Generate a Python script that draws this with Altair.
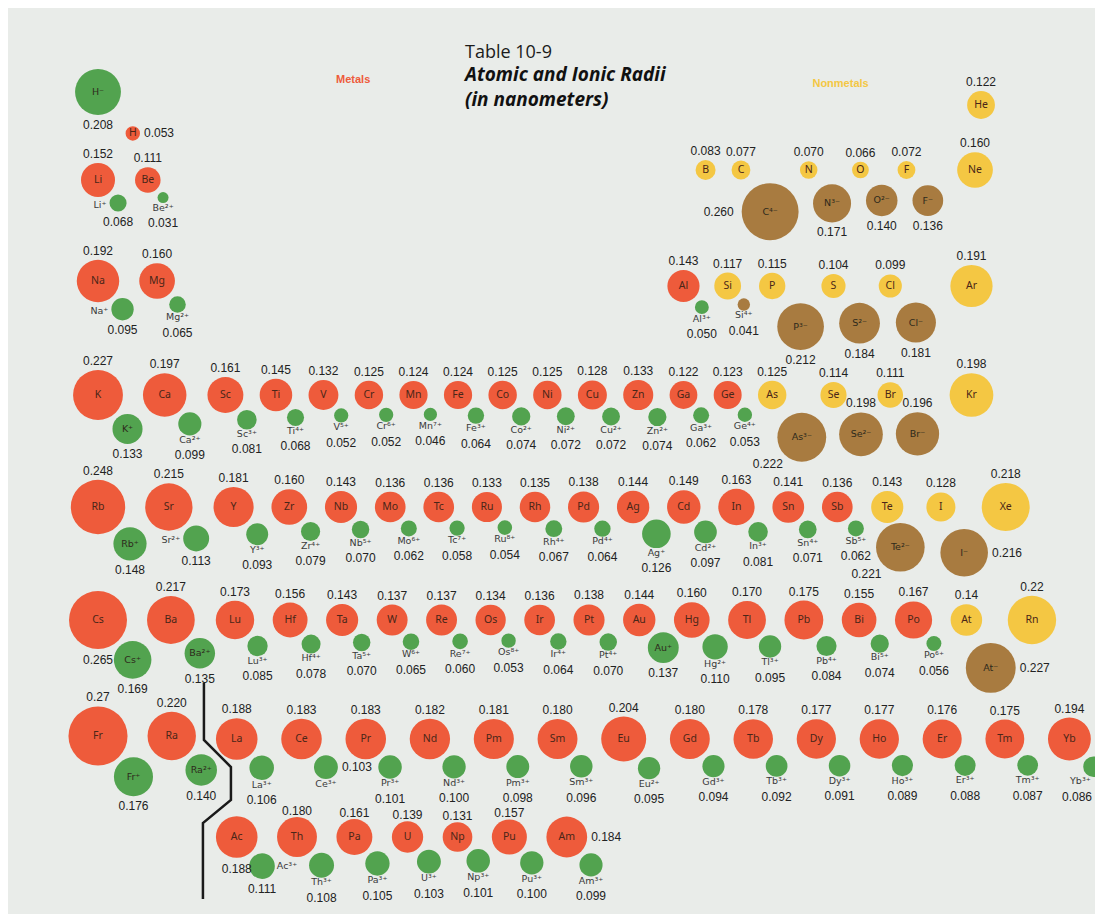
import math
import altair as alt
import pandas as pd

# ---------------- data (radii in nm, as printed) ----------------
P1_SYM = ["H", "He"]
P1_RAD = ["0.053", "0.122"]
P1_ION = ["−", ""]
P1_IRAD = ["0.208", ""]

P2_SYM = ["Li", "Be", "B", "C", "N", "O", "F", "Ne"]
P2_GRP = [1, 2, 13, 14, 15, 16, 17, 18]
P2_RAD = ["0.152", "0.111", "0.083", "0.077", "0.070", "0.066", "0.072", "0.160"]
P2_ION = ["+", "2+", "", "4−", "3−", "2−", "−", ""]
P2_IRAD = ["0.068", "0.031", "", "0.260", "0.171", "0.140", "0.136", ""]

P3_SYM = ["Na", "Mg", "Al", "Si", "P", "S", "Cl", "Ar"]
P3_GRP = [1, 2, 13, 14, 15, 16, 17, 18]
P3_RAD = ["0.192", "0.160", "0.143", "0.117", "0.115", "0.104", "0.099", "0.191"]
P3_ION = ["+", "2+", "3+", "4+", "3−", "2−", "−", ""]
P3_IRAD = ["0.095", "0.065", "0.050", "0.041", "0.212", "0.184", "0.181", ""]

P4_SYM = ["K", "Ca", "Sc", "Ti", "V", "Cr", "Mn", "Fe", "Co", "Ni", "Cu", "Zn", "Ga", "Ge", "As", "Se", "Br", "Kr"]
P4_RAD = ["0.227", "0.197", "0.161", "0.145", "0.132", "0.125", "0.124", "0.124", "0.125", "0.125", "0.128", "0.133", "0.122", "0.123", "0.125", "0.114", "0.111", "0.198"]
P4_ION = ["+", "2+", "3+", "4+", "5+", "6+", "7+", "3+", "2+", "2+", "2+", "2+", "3+", "4+", "3−", "2−", "−", ""]
P4_IRAD = ["0.133", "0.099", "0.081", "0.068", "0.052", "0.052", "0.046", "0.064", "0.074", "0.072", "0.072", "0.074", "0.062", "0.053", "0.222", "0.198", "0.196", ""]

P5_SYM = ["Rb", "Sr", "Y", "Zr", "Nb", "Mo", "Tc", "Ru", "Rh", "Pd", "Ag", "Cd", "In", "Sn", "Sb", "Te", "I", "Xe"]
P5_RAD = ["0.248", "0.215", "0.181", "0.160", "0.143", "0.136", "0.136", "0.133", "0.135", "0.138", "0.144", "0.149", "0.163", "0.141", "0.136", "0.143", "0.128", "0.218"]
P5_ION = ["+", "2+", "3+", "4+", "5+", "6+", "7+", "8+", "4+", "4+", "+", "2+", "3+", "4+", "5+", "2−", "−", ""]
P5_IRAD = ["0.148", "0.113", "0.093", "0.079", "0.070", "0.062", "0.058", "0.054", "0.067", "0.064", "0.126", "0.097", "0.081", "0.071", "0.062", "0.221", "0.216", ""]

P6_SYM = ["Cs", "Ba", "Lu", "Hf", "Ta", "W", "Re", "Os", "Ir", "Pt", "Au", "Hg", "Tl", "Pb", "Bi", "Po", "At", "Rn"]
P6_RAD = ["0.265", "0.217", "0.173", "0.156", "0.143", "0.137", "0.137", "0.134", "0.136", "0.138", "0.144", "0.160", "0.170", "0.175", "0.155", "0.167", "0.14", "0.22"]
P6_ION = ["+", "2+", "3+", "4+", "5+", "6+", "7+", "8+", "4+", "4+", "+", "2+", "3+", "4+", "5+", "6+", "−", ""]
P6_IRAD = ["0.169", "0.135", "0.085", "0.078", "0.070", "0.065", "0.060", "0.053", "0.064", "0.070", "0.137", "0.110", "0.095", "0.084", "0.074", "0.056", "0.227", ""]

P7_SYM = ["Fr", "Ra"]
P7_RAD = ["0.27", "0.220"]
P7_ION = ["+", "2+"]
P7_IRAD = ["0.176", "0.140"]

LAN_SYM = ["La", "Ce", "Pr", "Nd", "Pm", "Sm", "Eu", "Gd", "Tb", "Dy", "Ho", "Er", "Tm", "Yb"]
LAN_RAD = ["0.188", "0.183", "0.183", "0.182", "0.181", "0.180", "0.204", "0.180", "0.178", "0.177", "0.177", "0.176", "0.175", "0.194"]
LAN_ION = ["3+", "3+", "3+", "3+", "3+", "3+", "2+", "3+", "3+", "3+", "3+", "3+", "3+", "3+"]
LAN_IRAD = ["0.106", "0.103", "0.101", "0.100", "0.098", "0.096", "0.095", "0.094", "0.092", "0.091", "0.089", "0.088", "0.087", "0.086"]

ACT_SYM = ["Ac", "Th", "Pa", "U", "Np", "Pu", "Am"]
ACT_RAD = ["0.188", "0.180", "0.161", "0.139", "0.131", "0.157", "0.184"]
ACT_ION = ["3+", "3+", "3+", "3+", "3+", "3+", "3+"]
ACT_IRAD = ["0.111", "0.108", "0.105", "0.103", "0.101", "0.100", "0.099"]

NONMETALS = ["He", "B", "C", "N", "O", "F", "Ne", "Si", "P", "S", "Cl", "Ar",
             "As", "Se", "Br", "Kr", "Te", "I", "Xe", "At", "Rn"]

# ---------------- layout rules (packing by circle size) ----------------
SIZE_MIN, SIZE_K, SIZE_DMAX = 76.0, 46820.0, 0.3   # same as the size scale below
CLEAR_CATION = 6                                  # clearances between neighbours
CLEAR_ION_ION = {2: 15, 3: 15, 4: 13, 5: 16, 6: 16, 7: 16}
CLEAR_ANION_ATOM = 13
CLEAR_ANION_NOBLE = {2: 23, 3: 23, 4: 23, 5: 14, 6: 14, 7: 14}
X_G1 = 98                                         # column of group 1
ROW_Y = {"1": 92, "He": 105, "2s": 180, "2p": 170, "3s": 281, "3p": 286,
         4: 395, 5: 507, 6: 620, 7: 736, "lan": 739, "act": 837}
GAP_ROW = {2: 16, 4: 16.3, 5: 17.8, 6: 18.5, "lan": 23.7, "act": 19.5}
GAP_S, GAP_SD, GAP_LA = 20, 21, 20
HE_SHIFT = 6
VAL_GAP, VAL_GAP_ACT = 9, 6

ION_ANGLE = {"H": (230, 24), "Te": (72, 2)}
VAL_PLACE = {"H": "right", "Cs": "below", "Ac": "below", "Am": "right"}
ION_LABEL_PLACE = {"Li": "left", "Na": "left", "Sr": "left", "Ac": "right"}
ION_VAL_PLACE = {"C": "left", "As": "below-left", "Te": "below-left", "Se": "above",
                 "Br": "above", "I": "right", "At": "right", "Ce": "right"}
SUP = str.maketrans("0123456789+−", "⁰¹²³⁴⁵⁶⁷⁸⁹⁺⁻")

W, Hh = 1087, 906          # drawing area; layout units are page pixels (offset 8)


def radius(v):
    return math.sqrt(SIZE_MIN + SIZE_K * v * v) / 2.0


def make_row(syms, rads, ions, irads, period, groups=None):
    row = []
    for i, s in enumerate(syms):
        v = float(rads[i])
        e = dict(sym=s, vtxt=rads[i], v=v, r=radius(v), period=period,
                 group=groups[i] if groups else i + 1,
                 metal=s not in NONMETALS, ion=ions[i], ivtxt=irads[i], anion=False)
        if ions[i]:
            iv = float(irads[i])
            ri = radius(iv)
            anion = ions[i].endswith("−")
            if anion:
                ang, gap = (55, 13) if period in (2, 3, 4) else (63, 13)
            else:
                ang, gap = 49, 5
            ang, gap = ION_ANGLE.get(s, (ang, gap))
            d = e["r"] + ri + gap
            e.update(iv=iv, ri=ri, anion=anion,
                     dx=d * math.cos(math.radians(ang)),
                     dy=d * math.sin(math.radians(ang)))
        row.append(e)
    return row


def own_circles(e):
    out = [(0.0, 0.0, e["r"], "atom")]
    if e["ion"]:
        out.append((e["dx"], e["dy"], e["ri"], "anion" if e["anion"] else "cation"))
    return out


def clearance(k1, k2, e):
    if "anion" not in (k1, k2):
        return CLEAR_CATION
    if k1 != "atom" and k2 != "atom":
        return CLEAR_ION_ION[e["period"]]
    if k1 == "atom" and e["group"] == 18:
        return CLEAR_ANION_NOBLE[e["period"]]
    return CLEAR_ANION_ATOM


def pack(row, x0, gap_of, prev=None):
    for e in row:
        if prev is None:
            x = x0
        else:
            x = prev["x"] + prev["r"] + e["r"] + gap_of(prev, e)
            theirs = [(prev["x"] + ox, prev["y"] + oy, pr, k) for ox, oy, pr, k in own_circles(prev)]
            for ox, oy, cr, k1 in own_circles(e):
                for px, py, pr, k2 in theirs:
                    D = cr + pr + clearance(k1, k2, e)
                    ddy = e["y"] + oy - py
                    if abs(ddy) < D:
                        x = max(x, px + math.sqrt(D * D - ddy * ddy) - ox)
        e["x"] = x
        prev = e
    return row


def gap_fn(key):
    def f(prev, e):
        if e["group"] == 2:
            return GAP_S
        if e["group"] == 3 and prev["group"] == 2:
            return GAP_SD
        if e["group"] == 0 and prev["group"] == 2:
            return GAP_LA
        return GAP_ROW[key]
    return f


r1 = make_row(P1_SYM, P1_RAD, P1_ION, P1_IRAD, 1, [1, 18])
r2 = make_row(P2_SYM, P2_RAD, P2_ION, P2_IRAD, 2, P2_GRP)
r3 = make_row(P3_SYM, P3_RAD, P3_ION, P3_IRAD, 3, P3_GRP)
r4 = make_row(P4_SYM, P4_RAD, P4_ION, P4_IRAD, 4)
r5 = make_row(P5_SYM, P5_RAD, P5_ION, P5_IRAD, 5)
r6 = make_row(P6_SYM, P6_RAD, P6_ION, P6_IRAD, 6)
r7 = make_row(P7_SYM, P7_RAD, P7_ION, P7_IRAD, 7)
rl = make_row(LAN_SYM, LAN_RAD, LAN_ION, LAN_IRAD, 6, [0] * len(LAN_SYM))
ra = make_row(ACT_SYM, ACT_RAD, ACT_ION, ACT_IRAD, 7, [0] * len(ACT_SYM))

for e in r4: e["y"] = ROW_Y[4]
for e in r5: e["y"] = ROW_Y[5]
for e in r6: e["y"] = ROW_Y[6]
for e in r7: e["y"] = ROW_Y[7]
for e in rl: e["y"] = ROW_Y["lan"]
for e in ra: e["y"] = ROW_Y["act"]
for e in r2: e["y"] = ROW_Y["2s"] if e["group"] <= 2 else ROW_Y["2p"]
for e in r3: e["y"] = ROW_Y["3s"] if e["group"] <= 2 else ROW_Y["3p"]

pack(r4, X_G1, gap_fn(4))
pack(r5, X_G1, gap_fn(5))
pack(r6, X_G1, gap_fn(6))
pack(r7, X_G1, gap_fn(6))
pack(rl, None, gap_fn("lan"), prev=r7[-1])
ra[0]["x"] = rl[0]["x"]
pack(ra[1:], None, gap_fn("act"), prev=ra[0])

col4 = {e["group"]: e["x"] for e in r4}
pack(r2[:2], X_G1, gap_fn(2))
pack(r2[2:], (col4[13] + col4[14]) / 2, gap_fn(2))
pack(r3[:2], X_G1, gap_fn(2))
for e in r3[2:]:
    e["x"] = col4[e["group"]]

H, He = r1
H["x"] = X_G1 - H["dx"]
H["y"] = ROW_Y["1"] - H["dy"]
He["x"] = r2[-1]["x"] + HE_SHIFT
He["y"] = ROW_Y["He"]

elements = r1 + r2 + r3 + r4 + r5 + r6 + r7 + rl + ra

# ---------------- tables for the marks ----------------
atom_rows, ion_rows, texts = [], [], []
for e in elements:
    atom_rows.append(dict(x=e["x"], y=e["y"], v=e["v"],
                          swatch="metal" if e["metal"] else "nonmetal"))
    texts.append((e["x"], e["y"], e["sym"], "sym_c"))
    place = VAL_PLACE.get(e["sym"], "above")
    vgap = VAL_GAP_ACT if e in ra else VAL_GAP
    if place == "above":
        texts.append((e["x"], e["y"] - e["r"] - vgap, e["vtxt"], "val_c"))
    elif place == "right":
        texts.append((e["x"] + e["r"] + 4, e["y"], e["vtxt"], "val_l"))
    else:
        texts.append((e["x"], e["y"] + e["r"] + 11, e["vtxt"], "val_c"))
    if not e["ion"]:
        continue
    ix, iy, ri = e["x"] + e["dx"], e["y"] + e["dy"], e["ri"]
    ion_rows.append(dict(x=ix, y=iy, v=e["iv"], swatch="green" if e["metal"] else "brown"))
    lab = e["sym"] + e["ion"].translate(SUP)
    inside = e["anion"] or e["iv"] >= 0.13
    lp = ION_LABEL_PLACE.get(e["sym"], "inside" if inside else "below")
    ly = iy
    if lp == "inside":
        texts.append((ix, iy, lab, "isym_c"))
    elif lp == "below":
        ly = iy + ri + 4.5
        texts.append((ix, ly, lab, "ion_c"))
    elif lp == "left":
        texts.append((ix - ri - 3, iy + 2, lab, "ion_r"))
    else:
        texts.append((ix + ri + 2, iy, lab, "ion_l"))
    vp = ION_VAL_PLACE.get(e["sym"], "below")
    if vp == "below":
        vy = ly + 15.5 if lp == "below" else iy + ri + 10
        texts.append((ix, vy, e["ivtxt"], "val_c"))
    elif vp == "left":
        texts.append((ix - ri - 8, iy, e["ivtxt"], "val_r"))
    elif vp == "below-left":
        texts.append((ix - 0.9 * ri - 12, iy + ri + 2, e["ivtxt"], "val_c"))
    elif vp == "above":
        texts.append((ix, iy - ri - 9, e["ivtxt"], "val_c"))
    else:
        texts.append((ix + ri + 4, iy, e["ivtxt"], "val_l"))

# keep centred texts inside the right edge of the drawing
fitted = []
for x, y, t, layer in texts:
    if layer.endswith("_c"):
        half = 3.4 * len(t)
        x = min(x, 8 + W - half - 1)
    fitted.append((x, y, t, layer))

circ_df = pd.DataFrame(atom_rows + ion_rows)
text_df = pd.DataFrame(fitted, columns=["x", "y", "t", "layer"])

# separator between the s-block and the f-block
Ra, La, Ac = r7[1], rl[0], ra[0]
xa = (Ra["x"] + Ra["r"] + La["x"] - La["r"]) / 2 - 2
line_df = pd.DataFrame({
    "i": [0, 1, 2, 3, 4, 5],
    "x": [xa, xa, xa + 27, xa + 27, xa - 1, xa - 1],
    "y": [Ra["y"] - 53, Ra["y"] + 4, Ra["y"] + 31, Ra["y"] + 64, Ac["y"] - 14, Ac["y"] + 62],
})

# section headers
V4, Cr4 = r4[4], r4[5]
N2, O2 = r2[4], r2[5]
head_df = pd.DataFrame({
    "x": [(V4["x"] + Cr4["x"]) / 2 + 7, (N2["x"] + O2["x"]) / 2 + 6],
    "y": [80, 84],
    "t": ["Metals", "Nonmetals"],
    "c": ["Metals", "Nonmetals"],
})

# ---------------- chart ----------------
xs = alt.Scale(domain=[8, 8 + W], range=[0, W], nice=False, zero=False)
ys = alt.Scale(domain=[8, 8 + Hh], range=[0, Hh], nice=False, zero=False)
X = alt.X("x:Q", scale=xs, axis=None)
Y = alt.Y("y:Q", scale=ys, axis=None)

circles = alt.Chart(circ_df).mark_circle(opacity=1, stroke=None).encode(
    x=X, y=Y,
    size=alt.Size("v:Q", legend=None,
                  scale=alt.Scale(type="pow", exponent=2, domain=[0, SIZE_DMAX],
                                  range=[SIZE_MIN, SIZE_MIN + SIZE_K * SIZE_DMAX ** 2])),
    color=alt.Color("swatch:N", legend=None,
                    scale=alt.Scale(domain=["metal", "nonmetal", "green", "brown"],
                                    range=["#ee5b3b", "#f4c743", "#52a34f", "#a87b40"])),
)

STYLES = {
    "sym_c": dict(font="Noto Sans", fontSize=10.5, color="#4a2618", align="center"),
    "isym_c": dict(font="DejaVu Sans", fontSize=9.5, color="#2e2a1c", align="center"),
    "ion_c": dict(font="DejaVu Sans", fontSize=9.5, color="#3a3a3a", align="center"),
    "ion_r": dict(font="DejaVu Sans", fontSize=9.5, color="#3a3a3a", align="right"),
    "ion_l": dict(font="DejaVu Sans", fontSize=9.5, color="#3a3a3a", align="left"),
    "val_c": dict(font="Liberation Sans", fontSize=12, color="#222222", align="center"),
    "val_r": dict(font="Liberation Sans", fontSize=12, color="#222222", align="right"),
    "val_l": dict(font="Liberation Sans", fontSize=12, color="#222222", align="left"),
}
text_layers = []
for key, st in STYLES.items():
    sub = text_df[text_df["layer"] == key]
    if len(sub) == 0:
        continue
    text_layers.append(
        alt.Chart(sub).mark_text(baseline="middle", **st).encode(x=X, y=Y, text="t:N")
    )

sep = alt.Chart(line_df).mark_line(color="#1a1a1a", strokeWidth=2.5).encode(
    x=X, y=Y, order="i:Q")

heads = alt.Chart(head_df).mark_text(font="Liberation Sans", fontSize=11, fontWeight="bold",
                                     baseline="middle").encode(
    x=X, y=Y, text="t:N",
    color=alt.Color("c:N", legend=None,
                    scale=alt.Scale(domain=["Metals", "Nonmetals"], range=["#e8563a", "#f2c23e"])))

chart = alt.layer(sep, circles, *text_layers, heads).properties(
    width=W, height=Hh,
    autosize=alt.AutoSizeParams(type="none"),
    padding=0,
    title=alt.TitleParams(
        "Table 10-9",
        subtitle=["Atomic and Ionic Radii", "(in nanometers)"],
        anchor="start", dx=457, dy=102, offset=0,
        font="Open Sans", fontSize=18, fontWeight="normal", color="#1b1b1b",
        subtitleFont="Open Sans", subtitleFontSize=19, subtitleFontWeight="bold",
        subtitleFontStyle="italic", subtitleColor="#111111",
        subtitlePadding=4, subtitleLineHeight=25,
    ),
).configure(background="#e9ece9").configure_view(stroke=None)

chart.save("out.html", embed_options={"renderer": "svg", "actions": False})
